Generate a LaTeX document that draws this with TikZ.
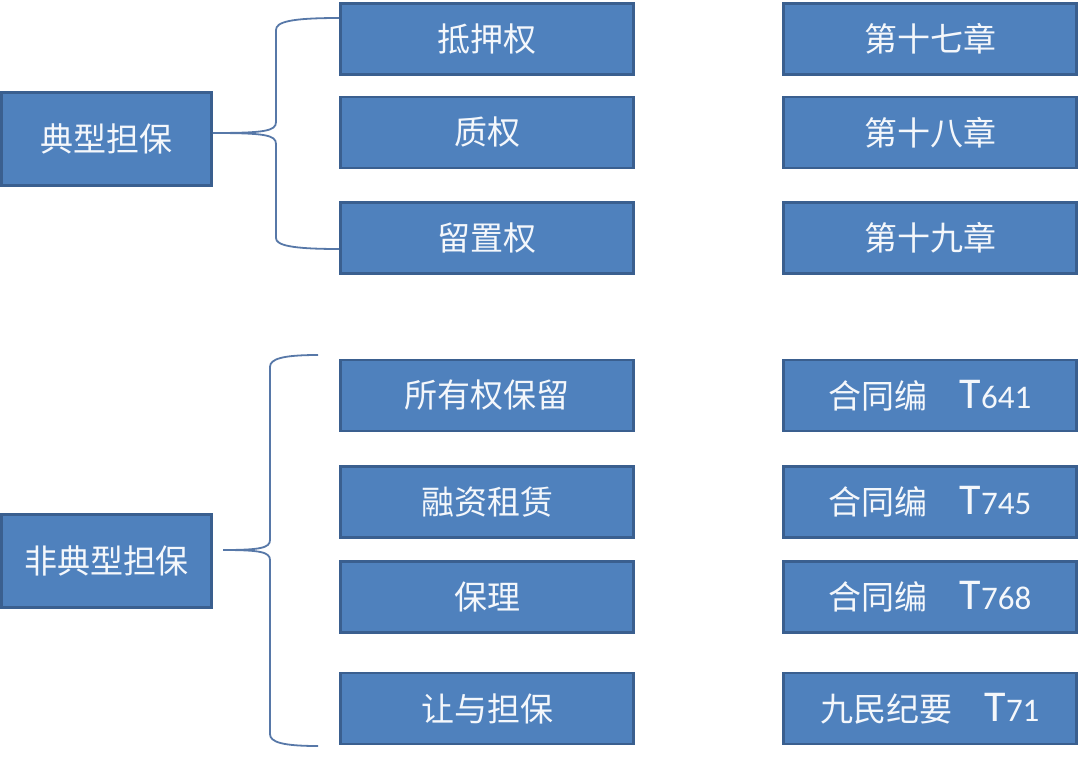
\documentclass[tikz,border=0pt]{standalone}
\usepackage{fontspec}
\newfontfamily\cjk{Noto Sans CJK SC}
\newfontfamily\lat{Carlito}
\definecolor{boxfill}{HTML}{4F81BD}
\definecolor{boxedge}{HTML}{3A5F8F}
\definecolor{bracecol}{HTML}{5778A8}
\definecolor{txt}{HTML}{F4F7FB}
\newcommand{\refT}[1]{{\lat\fontsize{44}{46}\selectfont T}{\lat\fontsize{33}{36}\selectfont #1}}
\begin{document}
\begin{tikzpicture}[x=1pt,y=-1pt,
  box/.style={draw=boxedge,line width=2.8pt,fill=boxfill,text=txt,inner sep=0pt,
    font=\cjk\fontsize{33}{36}\selectfont},
  leftbox/.style={box,minimum width=210pt,minimum height=93pt},
  midbox/.style={box,minimum width=293pt,minimum height=71pt},
  brace/.style={draw=bracecol,line width=1.8pt}]
\useasboundingbox (0,0) rectangle (1080,763);
% left
\node[leftbox] (L1) at (106.5,139) {典型担保};
\node[leftbox] (L2) at (106.5,561) {非典型担保};
% middle
\node[midbox] (M1) at (487,39) {抵押权};
\node[midbox] (M2) at (487,132.5) {质权};
\node[midbox] (M3) at (487,238) {留置权};
\node[midbox] (M4) at (487,395.5) {所有权保留};
\node[midbox] (M5) at (487,502) {融资租赁};
\node[midbox] (M6) at (487,597) {保理};
\node[midbox] (M7) at (487,708.5) {让与担保};
% right
\node[midbox] (R1) at (930,39) {第十七章};
\node[midbox] (R2) at (930,132.5) {第十八章};
\node[midbox] (R3) at (930,238) {第十九章};
\node[midbox] (R4) at (930,395.5) {合同编\hspace*{32pt}\refT{641}};
\node[midbox] (R5) at (930,502) {合同编\hspace*{32pt}\refT{745}};
\node[midbox] (R6) at (930,597) {合同编\hspace*{32pt}\refT{768}};
\node[midbox] (R7) at (930,708.5) {九民纪要\hspace*{32pt}\refT{71}};
% brace 1
\coordinate (b1s) at (L1.east |- 0,133);
\coordinate (b1t) at (M1.west |- 0,18);
\coordinate (b1b) at (M3.west |- 0,249);
\draw[brace] (b1s) .. controls (265,133) and (276,131) .. (276,122) -- (276,30)
  .. controls (276,22) and (290,18) .. (b1t);
\draw[brace] (b1s) .. controls (265,133) and (276,135) .. (276,144) -- (276,238)
  .. controls (276,245) and (290,249) .. (b1b);
% brace 2
\coordinate (b2s) at (223,550);
\coordinate (b2t) at (318,355);
\coordinate (b2b) at (318,746);
\draw[brace] (b2s) .. controls (260,550) and (270,548) .. (270,540) -- (270,367)
  .. controls (270,359) and (282,355) .. (b2t);
\draw[brace] (b2s) .. controls (260,550) and (270,552) .. (270,560) -- (270,734)
  .. controls (270,742) and (282,746) .. (b2b);
\end{tikzpicture}
\end{document}
